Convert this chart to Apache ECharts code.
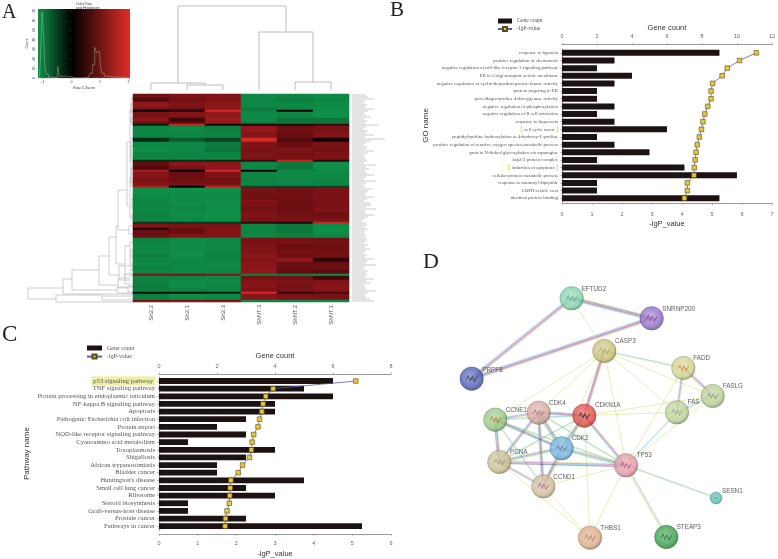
<!DOCTYPE html>
<html><head><meta charset="utf-8">
<style>html,body{margin:0;padding:0;background:#fff}#c{width:778px;height:559px}</style>
<script src="https://cdn.jsdelivr.net/npm/echarts@6/dist/echarts.min.js"></script>
</head><body><div id="c"></div>
<script>
// ---------- data ----------
const heatColumns = ['Sh2.2','Sh2.1','Sh2.3','ShNT.3','ShNT.2','ShNT.1'];
// [repeat, six z-scores], top to bottom
const heatRowRuns = [
[2,.65,.8,.85,-.9,-.85,-.9],[2,.4,.7,.85,-.85,-.7,-.85],[3,1.05,.85,1,-.9,-.9,-.95],[1,.7,.55,1.05,-.6,-.9,-.95],
[1,.05,.2,1.85,-.8,.05,-1],[3,.8,.9,1.1,-.9,-.85,-1],[2,1,.3,1.2,-.9,-.55,-.6],[1,.6,.5,1.1,-.7,-.7,-.6],[1,-.15,1.8,.1,.15,.2,.3],
[3,-.85,-.9,-.75,1.1,.6,.75],[3,-.85,-.85,-.85,.95,.55,.9],[2,-.2,-.4,-.3,1.9,.4,.1],[3,-.9,-.9,-.7,.85,.6,.75],[2,-1,-.9,-.55,.75,.85,.7],[4,-.85,-.85,-.85,.85,.75,.85],[1,-.2,-.2,-.2,.3,1.7,.2],
[2,.5,1,1.05,-.9,-.65,-1],[2,.4,.8,1.05,-.9,-.6,-1],[1,1.35,.02,1.85,.05,-.9,-.9],[3,.95,.6,.85,-.85,-.9,-.9],[2,.8,.65,.7,-.8,-.85,-.85],[2,.95,.75,.75,-.85,-.9,-.85],[1,1.45,.05,1.7,-.3,-.3,-.3],
[3,-1,-1,-1,.75,.7,.8],[3,-.9,-.95,-.95,.65,.7,.8],[3,-.85,-.95,-1,.85,.6,.75],[3,-.85,-.9,-1,.7,.6,.85],[3,-.8,-.95,-1,.85,.7,.65],[2,-.8,-.9,-1,.75,.75,.75],[1,-.25,-.25,-.25,.25,.15,1.75],
[2,.9,.85,.8,-.85,-.65,-.95],[1,.15,.6,.9,-.8,-.6,-1],[2,.6,.55,.9,-.85,-.7,-1],[2,.6,.9,.9,-.85,-.75,-.9],
[3,-.8,-.95,-.9,.8,.8,.7],[3,-.85,-.95,-.9,.85,.6,.65],[2,-.85,-1,-.85,.9,.75,.7],[2,-.75,-1,-.85,1,.6,.7],[2,-.9,-.9,-.85,.9,1.1,.25],[2,-.9,-.85,-.9,1,.6,.55],[2,-.75,-.9,-.9,1.05,.55,.6],[2,-.85,-.85,-.85,1.05,.5,.45],
[1,.9,.8,.9,-.75,-.75,-.95],[2,-.8,-.85,-.9,.75,.7,.35],[2,-.75,-.95,-.9,.9,.8,.85],[2,-.7,-.95,-.85,.95,.75,1],[2,-.75,-.8,-.85,.85,.75,.95],[1,-.1,-.1,-.15,1.9,.25,.4],[3,-.75,-.95,-.9,.95,.85,.75],[1,.9,.9,.9,-.85,-.85,-.85]];
// widths of the illegible row labels (row labels cannot be read in the reference)
const rowLabelWidths = [14,16,22,13,12,15,13,22,16,12,14,19,12,15,13,26,14,12,16,14,22,13,33,19,14,12,15,14,22,16,13,12,14,15,
12,24,14,17,13,15,22,14,12,24,14,12,13,20,16,14,13,22,15,12,18,20,14,24,13,14,22,16,12,10,14,15,13,16,13,12,14,13,
15,14,12,16,13,18,14,12,15,13,22,15,14,24,13,12,16,14,15,13,22,14,19,12,13,14,24,16,13,14,18,22];
// top dendrogram: [x1, h1, x2, h2, merge height]
const colMerges = [[1.5,0,2.5,0,5],[0.5,0,2,5,7],[4.5,0,5.5,0,8],[3.5,0,5,8,58],[1.25,7,4.25,58,84]];
// left dendrogram: [distance, row1, distance1, row2, distance2]
const rowMerges = [[105,97,70,102.5,77],[70,92.5,61,100,0],[77,100.5,31,104,0],[61,88,34,98,16],[34,81,24,95.5,15],[24,71.5,17,90.5,14],
[17,66,15,85,8],[15,48,6,68,4],[6,24,3,56,3],[3,8,2,34,2],[3,42,2,62,1],[2,2,0,14,0],[2,22,0,46,0],
[4,66,0,70,0],[8,76,3,92,3],[3,74,0,86,1],[3,88,0,91,0],[14,86,3,93,2],[15,92,8,97,5],[8,90,0,95,2],[5,96,0,99,0],[16,96.5,0,99.5,0],
[31,101,1,103,0],[2,5,0,9,0],[2,12,0,15,0],[2,26,0,32,0],[2,37,0,44,0],[1,52,0,57,0],[1,60,0,63,0],[2,78,0,82,0],[1,84,0,88,0]];
// colour key histogram
const histogramX = [-1.12,-1.05,-1,-.95,-.9,-.85,-.75,-.5,-.45,-.4,.2,.6,.7,.78,.85,.92,.98,1.03,1.1,1.2,1.5,2];
const histogramY = [0,20,69,43,10,4,1,0,12,2,0,1,5,14,32,26,28,15,5,2,1,0];
const keyLabelsY = [0,10,20,30,40,50,60,70];

// panel B
const goNames = ['response to hypoxia','positive regulation of chemotaxis','negative regulation of toll-like receptor 3 signaling pathway','ER to Golgi transport vesicle membrane','negative regulation of cyclin-dependent protein kinase activity','protein targeting to ER','procollagen-proline 4-dioxygenase activity','negative regulation of phosphorylation','negative regulation of B cell activation','response to hyperoxia','cell cycle arrest','peptidyl-proline hydroxylation to 4-hydroxy-L-proline','positive regulation of reactive oxygen species metabolic process','protein N-linked glycosylation via asparagine','Arp2/3 protein complex','induction of apoptosis','cellular protein metabolic process','response to muramyl dipeptide','COPII vesicle coat','identical protein binding'];
const goCounts = [9,3,2,4,3,2,2,3,2,3,6,2,3,5,2,7,10,2,2,9];
const goLgP = [6.48,5.92,5.51,5.34,5.02,4.97,4.97,4.86,4.76,4.70,4.65,4.58,4.51,4.47,4.44,4.41,4.40,4.18,4.18,4.08];
const goHighlighted = ['cell cycle arrest','induction of apoptosis'];

// panel C
const pathwayNames = ['p53 signaling pathway','TNF signaling pathway','Protein processing in endoplasmic reticulum','NF-kappa B signaling pathway','Apoptosis','Pathogenic Escherichia coli infection','Protein export','NOD-like receptor signaling pathway','Cyanoamino acid metabolism','Toxoplasmosis','Shigellosis','African trypanosomiasis','Bladder cancer',"Huntington's disease",'Small cell lung cancer','Ribosome','Steroid biosynthesis','Graft-versus-host disease','Prostate cancer','Pathways in cancer'];
const pathwayCounts = [6,5,6,4,4,3,2,3,1,4,3,2,2,5,3,4,1,1,3,7];
const pathwayLgP = [5.09,2.95,2.76,2.69,2.66,2.60,2.56,2.45,2.41,2.39,2.34,2.16,2.05,1.86,1.84,1.83,1.82,1.76,1.72,1.71];

// panel D: layout position of each protein in network units
const proteinNames = ['EFTUD2','SNRNP200','CASP3','PRPF8','FADD','FASLG','FAS','CDKN1A','CDK4','CCNE1','CDK2','PCNA','TP53','CCND1','SESN1','THBS1','STEAP3'];
const proteinX = [455,695,553,155,790,878,771,493,356,226,425,238,618,370,888,510,739];
const proteinY = [85,145,243,326,294,378,427,437,428,449,535,576,586,649,684,803,801];
// evidence channels per link: y text-mining, b database, p experiment, k co-expression, g neighbourhood
const links = [['EFTUD2','SNRNP200','ykpkb'],['EFTUD2','PRPF8','ypkpb'],['SNRNP200','PRPF8','ypkpb'],['EFTUD2','CASP3','y'],['CASP3','FADD','by'],['CASP3','FASLG','y'],['CASP3','FAS','y'],['CASP3','CDKN1A','ypkp'],['CASP3','CDK4','y'],['CASP3','CCNE1','y'],['CASP3','CDK2','y'],['CASP3','TP53','y'],
['FADD','FASLG','pkby'],['FADD','FAS','ypb'],['FASLG','FAS','yb'],['FADD','TP53','y'],['FAS','TP53','by'],['FASLG','TP53','y'],['FASLG','CDKN1A','y'],['FAS','CDKN1A','y'],
['CDKN1A','CDK4','ypkb'],['CDKN1A','CCNE1','yb'],['CDKN1A','CDK2','ypkb'],['CDKN1A','TP53','ypkb'],['CDKN1A','PCNA','yb'],['CDKN1A','CCND1','yb'],['CDKN1A','THBS1','y'],
['CDK4','CCNE1','ypb'],['CDK4','CDK2','ypkbg'],['CDK4','PCNA','ykpb'],['CDK4','CCND1','ypkb'],['CDK4','TP53','yb'],['CCNE1','CDK2','ypkb'],['CCNE1','PCNA','ykbp'],['CCNE1','CCND1','yb'],['CCNE1','TP53','yb'],
['CDK2','PCNA','ybpg'],['CDK2','CCND1','ypkb'],['CDK2','TP53','ypbg'],['PCNA','CCND1','ypb'],['PCNA','TP53','ypbk'],['PCNA','THBS1','y'],['CCND1','TP53','y'],['CCND1','THBS1','y'],['TP53','THBS1','y'],['TP53','SESN1','by'],['TP53','STEAP3','byy']];

// ---------- styles ----------
const channelColor = {y:'#c6d65e',b:'#3fb6d8',p:'#c03fa2',k:'#3c3c5c',g:'#4fb07e'};
const nodeColor = ['#7fd0a8','#8a6ac4','#c6be70','#4658b4','#cfd08a','#b4cc8e','#b6d090','#e0443e','#d4a698','#92c47e','#6eb0dc','#c8bc8c','#e095a5','#d0b898','#50b8ac','#d8a880','#2e9a42'];
const glyphColor = ['#5aa090','#a02c8c','#a8a468','#333','#d8803c','#889a78','#8aa088','#222','#b06a90','#c0701c','#5878a8','#b09070','#b0507a','#a86488','#3a8a80','#a87860','#2a6a40'];
const labelPos = [[485,57],[727,118],[585,215],[187,300],[820,265],[908,349],[803,398],[525,407],[387,401],[257,422],[455,506],[270,547],[650,557],[400,621],[906,665],[541,775],[770,773]];
const sans='"Liberation Sans",Arial,sans-serif', serif='"Liberation Serif","Times New Roman",serif';

function shade(hex,f){const n=parseInt(hex.slice(1),16);const c=[n>>16,(n>>8)&255,n&255].map(v=>Math.max(0,Math.min(255,Math.round(f>0?v+(255-v)*f:v*(1+f)))));return `rgb(${c.join(',')})`;}

const heatData=[];let rowIndex=0;const rowCount=rowLabelWidths.length;
heatRowRuns.forEach(run=>{for(let k=0;k<run[0];k++){for(let c=0;c<6;c++)heatData.push([c,rowIndex,run[c+1]]);rowIndex++;}});
const rowCats=rowLabelWidths.map((_,i)=>String(i));

function barPanel(gi,names,counts,lgp,opt){
  return {
    grid:{left:opt.left,top:opt.top,width:opt.width,height:opt.height},
    xTop:{type:'value',gridIndex:gi,position:'top',min:0,max:opt.countMax,interval:2,offset:opt.offTop,name:'Gene count',nameLocation:'middle',nameGap:opt.nameTop,
      nameTextStyle:{fontFamily:sans,fontSize:7.5,color:'#333'},axisLine:{show:true,lineStyle:{color:'#999',width:1.2}},axisTick:{show:true,length:2,lineStyle:{color:'#999',width:.6}},axisLabel:{fontFamily:sans,fontSize:5.5,color:'#666',margin:opt.marginTop},splitLine:{show:false}},
    xBot:{type:'value',gridIndex:gi,position:'bottom',min:0,max:opt.lgMax,interval:1,offset:opt.offBot,name:'-lgP_value',nameLocation:'middle',nameGap:opt.nameBot,
      nameTextStyle:{fontFamily:sans,fontSize:7.5,color:'#333'},axisLine:{show:true,lineStyle:{color:'#999',width:1.2}},axisTick:{show:true,length:2,lineStyle:{color:'#999',width:.6}},axisLabel:{fontFamily:sans,fontSize:5.5,color:'#666',margin:opt.marginBot},splitLine:{show:false}},
    y:{type:'category',gridIndex:gi,inverse:true,data:names,name:opt.yName,nameLocation:'middle',nameGap:opt.nameLeft,nameTextStyle:{fontFamily:sans,fontSize:8,color:'#333'},
      axisLine:{show:true,lineStyle:{color:'#999',width:1.2}},axisTick:{show:true,length:2,alignWithLabel:true,lineStyle:{color:'#999',width:.6}},
      axisLabel:{interval:0,margin:4,fontFamily:serif,fontSize:opt.labelSize,color:'#555',formatter:opt.fmt,rich:opt.rich}},
    bar:{name:'Gene count',type:'bar',data:counts,barWidth:opt.barW,itemStyle:{color:'#1c1212'},silent:true},
    line:{name:'-lgP-value',type:'line',data:lgp,symbol:'rect',symbolSize:4.6,lineStyle:{color:'#5c5cb0',width:.8},itemStyle:{color:'#e6c832',borderColor:'#5a4a20',borderWidth:.6},z:5,silent:true}
  };
}
const B=barPanel(5,goNames,goCounts,goLgP,{left:562,top:49,width:213,height:153,countMax:12,lgMax:7,offTop:4.3,offBot:1.3,nameTop:13,nameBot:17,marginTop:5,marginBot:8,yName:'GO name',nameLeft:118,labelSize:4.85,barW:6,
  fmt:v=>goHighlighted.includes(v)?`{y| }{t|${v}}{y| }`:v,
  rich:{y:{backgroundColor:'#e2e87a',width:1.4,height:7,fontSize:5},t:{fontFamily:serif,fontSize:4.85,color:'#555',padding:[0,2,0,2]}}});
const C=barPanel(6,pathwayNames,pathwayCounts,pathwayLgP,{left:159,top:377.2,width:232,height:153.7,countMax:8,lgMax:6,offTop:3,offBot:4,nameTop:14,nameBot:16,marginTop:5,marginBot:6,yName:'Pathway name',nameLeft:128,labelSize:6.6,barW:5.8,
  fmt:v=>v===pathwayNames[0]?`{h|${v}}`:v,
  rich:{h:{backgroundColor:'#eef0a0',fontFamily:serif,fontSize:6.6,color:'#555',padding:[1,2,1,2]}}});

const dendroStyle={stroke:'#bcbcbc',lineWidth:.75,fill:null};
const edgeRows=links.map((l,i)=>{const a=proteinNames.indexOf(l[0]),b=proteinNames.indexOf(l[1]);return [proteinX[a],proteinY[a],proteinX[b],proteinY[b],i];});

const option={
  animation:false,backgroundColor:'#fff',
  graphic:[
    {type:'text',left:2,top:3,style:{text:'A',fontFamily:serif,fontSize:20,fill:'#222'}},
    {type:'text',left:390,top:0,style:{text:'B',fontFamily:serif,fontSize:21,fill:'#222'}},
    {type:'text',left:2,top:323,style:{text:'C',fontFamily:serif,fontSize:23,fill:'#222'}},
    {type:'text',left:423,top:251,style:{text:'D',fontFamily:serif,fontSize:22,fill:'#222'}},
    {type:'text',left:76,top:2,style:{text:'Color Key\nand Histogram',align:'center',fontFamily:sans,fontSize:3.6,lineHeight:4,fill:'#333'}}
  ],
  legend:[
    {show:true,left:492,top:13,orient:'vertical',itemWidth:14,itemHeight:5,itemGap:2,textStyle:{fontFamily:serif,fontSize:5.6,color:'#555'},data:[{name:'Gene count',icon:'rect'},{name:'-lgP-value'}]},
    {show:true,left:81,top:340,orient:'vertical',itemWidth:15,itemHeight:5,itemGap:2.6,textStyle:{fontFamily:serif,fontSize:6,color:'#555'},data:[{name:'Gene count',icon:'rect'},{name:'-lgP-value'}]}
  ],
  visualMap:{show:false,seriesIndex:4,min:-1,max:2,inRange:{color:['#0f8f48','#0c7038','#000000','#640d10','#8a161a','#b52022','#e02a26']}},
  grid:[
    {left:38,top:9,width:92,height:69,show:true,borderWidth:0,backgroundColor:{type:'linear',x:0,y:0,x2:1,y2:0,colorStops:[{offset:0,color:'#0f9048'},{offset:.37,color:'#000'},{offset:1,color:'#e22c26'}]}},
    {left:133,top:6,width:216,height:84},
    {left:26,top:94,width:107,height:208},
    {left:133,top:94,width:216,height:208},
    {left:352,top:94,width:40,height:208},
    B.grid,C.grid,
    {left:420,top:270,width:358,height:289}
  ],
  xAxis:[
    {gridIndex:0,type:'value',min:-1.17,max:2.05,name:'Row Z-Score',nameLocation:'middle',nameGap:8,nameTextStyle:{fontFamily:sans,fontSize:3.8,color:'#444'},
      axisLine:{show:true,lineStyle:{color:'#888',width:.4}},axisTick:{show:true,length:1.5,customValues:[-1,0,1,2],lineStyle:{color:'#888',width:.4}},axisLabel:{customValues:[-1,0,1,2],fontFamily:sans,fontSize:3.5,color:'#444',margin:2},splitLine:{show:false}},
    {gridIndex:1,type:'value',min:0,max:6,show:false},
    {gridIndex:2,type:'value',min:0,max:107,inverse:true,show:false},
    {gridIndex:3,type:'category',data:heatColumns,axisLine:{show:false},axisTick:{show:false},axisLabel:{interval:0,rotate:90,fontFamily:sans,fontSize:6,color:'#555',margin:3},splitArea:{show:false}},
    {gridIndex:4,type:'value',min:0,max:40,show:false},
    B.xTop,B.xBot,C.xTop,C.xBot,
    {gridIndex:7,type:'value',min:0,max:1074,show:false}
  ],
  yAxis:[
    {gridIndex:0,type:'value',min:0,max:72,name:'Count',nameLocation:'middle',nameGap:9,nameTextStyle:{fontFamily:sans,fontSize:3.8,color:'#444'},
      axisLine:{show:false},axisTick:{show:true,length:1.5,customValues:keyLabelsY,lineStyle:{color:'#888',width:.4}},axisLabel:{customValues:keyLabelsY,fontFamily:sans,fontSize:3.3,color:'#444',margin:2,rotate:90},splitLine:{show:false}},
    {gridIndex:1,type:'value',min:0,max:84,show:false},
    {gridIndex:2,type:'value',min:0,max:104,inverse:true,show:false},
    {gridIndex:3,type:'category',data:rowCats,inverse:true,show:false,splitArea:{show:false}},
    {gridIndex:4,type:'category',data:rowCats,inverse:true,show:false},
    B.y,C.y,
    {gridIndex:6,type:'category',data:pathwayNames,inverse:true,position:'right',axisLine:{show:true,lineStyle:{color:'#bbb',width:1.2}},axisTick:{show:false},axisLabel:{show:false}},
    {gridIndex:7,type:'value',min:0,max:867,inverse:true,show:false}
  ],
  series:[
    {type:'line',xAxisIndex:0,yAxisIndex:0,step:'middle',symbol:'none',silent:true,data:histogramX.map((x,i)=>[x,histogramY[i]]),lineStyle:{color:'rgba(190,215,190,.55)',width:.7}},
    {type:'custom',xAxisIndex:1,yAxisIndex:1,silent:true,clip:false,data:colMerges,encode:{x:[0,2],y:[1,3,4]},
      renderItem(p,api){const a=api.coord([api.value(0),api.value(1)]),b=api.coord([api.value(2),api.value(3)]),ya=api.coord([0,api.value(4)])[1];
        return {type:'polyline',shape:{points:[a,[a[0],ya],[b[0],ya],b]},style:{stroke:'#b4b4b4',lineWidth:.9,fill:null}};}},
    {type:'custom',xAxisIndex:2,yAxisIndex:2,silent:true,clip:false,data:rowMerges,encode:{x:[0,2,4],y:[1,3]},
      renderItem(p,api){const xm=api.coord([api.value(0),0])[0],a=api.coord([api.value(2),api.value(1)]),b=api.coord([api.value(4),api.value(3)]);
        return {type:'polyline',shape:{points:[a,[xm,a[1]],[xm,b[1]],b]},style:dendroStyle};}},
    {type:'bar',xAxisIndex:4,yAxisIndex:4,silent:true,data:rowLabelWidths,barWidth:.7,itemStyle:{color:'#c8c8c8'}},
    {type:'heatmap',xAxisIndex:3,yAxisIndex:3,silent:true,data:heatData,progressive:0},
    Object.assign({xAxisIndex:5,yAxisIndex:5},B.bar),
    Object.assign({xAxisIndex:6,yAxisIndex:5},B.line),
    Object.assign({xAxisIndex:7,yAxisIndex:6},C.bar),
    Object.assign({xAxisIndex:8,yAxisIndex:6},C.line),
    {type:'custom',xAxisIndex:9,yAxisIndex:8,silent:true,clip:false,data:edgeRows,encode:{x:[0,2],y:[1,3]},
      renderItem(p,api){
        const a=api.coord([api.value(0),api.value(1)]),b=api.coord([api.value(2),api.value(3)]);
        const ch=links[api.value(4)][2],dx=b[0]-a[0],dy=b[1]-a[1],L=Math.hypot(dx,dy),nx=-dy/L,ny=dx/L,gap=.9;
        const children=[...ch].map((c,i)=>{const o=(i-(ch.length-1)/2)*gap;
          return {type:'line',shape:{x1:a[0]+nx*o,y1:a[1]+ny*o,x2:b[0]+nx*o,y2:b[1]+ny*o},style:{stroke:channelColor[c],lineWidth:.45}};});
        return {type:'group',children};}},
    {type:'scatter',xAxisIndex:9,yAxisIndex:8,silent:true,z:6,
      data:proteinNames.map((n,i)=>({name:n,value:[proteinX[i],proteinY[i]],symbolSize:n==='SESN1'?12:23.5,
        itemStyle:{color:{type:'radial',x:.45,y:.42,r:.62,colorStops:[{offset:0,color:shade(nodeColor[i],.35)},{offset:.72,color:nodeColor[i]},{offset:1,color:shade(nodeColor[i],-.4)}]},borderColor:shade(nodeColor[i],-.45),borderWidth:.4},
        label:{show:true,position:'inside',align:'left',verticalAlign:'middle',offset:[(labelPos[i][0]-proteinX[i])/3,(labelPos[i][1]-proteinY[i])/3],formatter:n,fontFamily:sans,fontSize:6.3,color:'#333'}}))},
    {type:'scatter',xAxisIndex:9,yAxisIndex:8,silent:true,z:7,symbol:'path://M0 6 L3 1 L5 7 L8 2 L10 8 L14 3 L14 5 L10 11 L8 5 L5 10 L3 4 L0 8Z',
      data:proteinNames.map((n,i)=>({value:[proteinX[i],proteinY[i]],symbolSize:n==='SESN1'?[4,3]:[11,8],itemStyle:{color:glyphColor[i],opacity:.75}}))}
  ]
};
const chart=echarts.init(document.getElementById('c'),null,{renderer:'canvas'});
chart.setOption(option);
</script></body></html>
